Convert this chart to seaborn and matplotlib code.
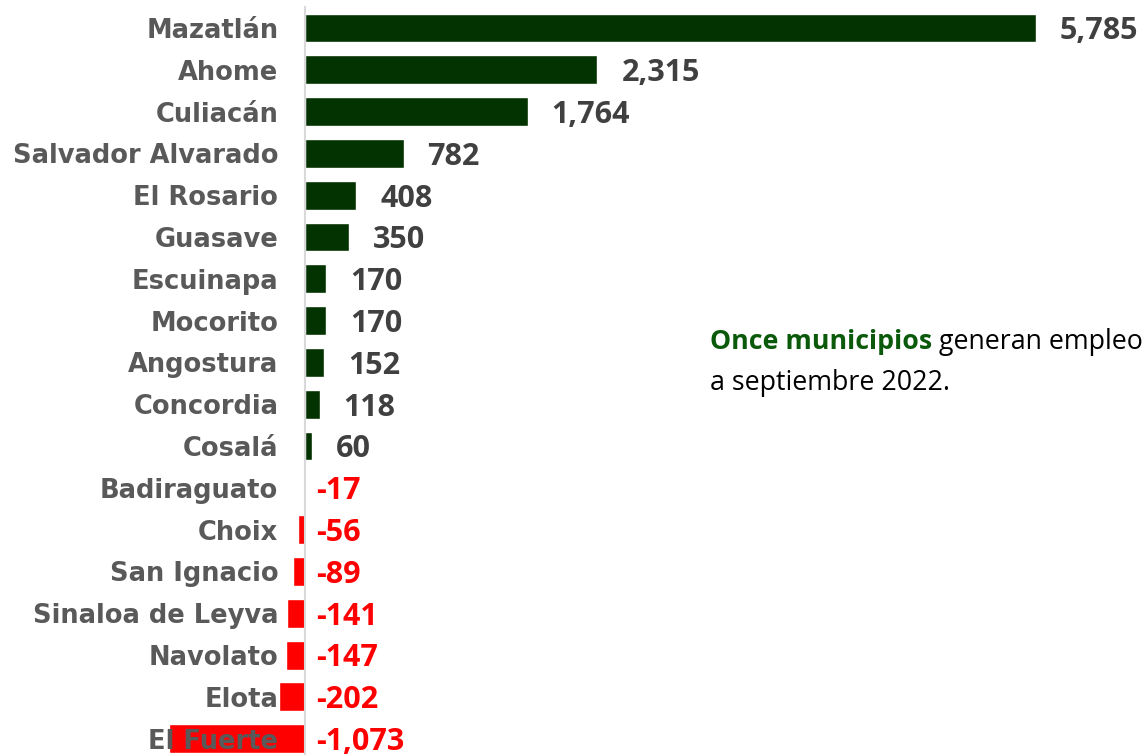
import matplotlib
matplotlib.use("Agg")
import matplotlib.pyplot as plt
import seaborn as sns

municipios = ["Mazatlán", "Ahome", "Culiacán", "Salvador Alvarado", "El Rosario",
              "Guasave", "Escuinapa", "Mocorito", "Angostura", "Concordia", "Cosalá",
              "Badiraguato", "Choix", "San Ignacio", "Sinaloa de Leyva", "Navolato",
              "Elota", "El Fuerte"]
empleos = [5785, 2315, 1764, 782, 408, 350, 170, 170, 152, 118, 60,
           -17, -56, -89, -141, -147, -202, -1073]

verde = "#033300"
rojo = "#FF0000"
colores = [verde] * 12 + [rojo] * 6

sns.set_style("white")
plt.rcParams["font.family"] = ["DejaVu Sans"]

fig = plt.figure(figsize=(11.48, 7.55), dpi=100)
ax = fig.add_axes([169 / 1148, 0, 867 / 1148, 747.9 / 755])

sns.barplot(x=empleos, y=municipios, hue=municipios, palette=colores,
            legend=False, orient="h", width=0.69, saturation=1, ax=ax, zorder=1)

ax.set_axisbelow(False)  # nombres por encima de las barras (El Fuerte)
ax.set_xlim(-1073, 5785)
ax.set_ylim(17.39, -0.5)

for s in ["top", "right", "bottom"]:
    ax.spines[s].set_visible(False)
ax.spines["left"].set_position(("data", 0))
ax.spines["left"].set_color("#D9D9D9")
ax.spines["left"].set_linewidth(1.5)
ax.spines["left"].set_zorder(4)
ax.set_xticks([])
ax.set_xlabel("")
ax.set_ylabel("")
ax.tick_params(axis="y", length=0, pad=19)
for lab in ax.get_yticklabels():
    lab.set_fontsize(18.5)
    lab.set_fontweight("bold")
    lab.set_color("#595959")

# etiquetas de valores
px = 5785 / 731  # unidades de datos por pixel
for i, v in enumerate(empleos):
    if v >= 0:
        ax.text(v + 24 * px, i + 0.08, f"{v:,}", ha="left", va="center",
                fontsize=22, fontweight="bold", color="#404040",
                family=["Open Sans", "DejaVu Sans"], clip_on=False)
    else:
        ax.text(11 * px, i + 0.08, f"{v:,}", ha="left", va="center",
                fontsize=22, fontweight="bold", color=rojo,
                family=["Open Sans", "DejaVu Sans"], clip_on=False)

t1 = fig.text(710 / 1148, 1 - 342 / 755, "Once municipios", ha="left", va="center",
              fontsize=19.3, fontweight="bold", color="#0B5A0B",
              family=["Open Sans", "DejaVu Sans"])
ax.annotate(" generan empleo", xy=(1, 0.5), xycoords=t1, ha="left", va="center",
            fontsize=19.3, color="#000000", family=["Open Sans", "DejaVu Sans"],
            annotation_clip=False)
fig.text(710 / 1148, 1 - 383 / 755, "a septiembre 2022.", ha="left", va="center",
         fontsize=19.3, color="#000000", family=["Open Sans", "DejaVu Sans"])

fig.savefig("out.png", dpi=100)
